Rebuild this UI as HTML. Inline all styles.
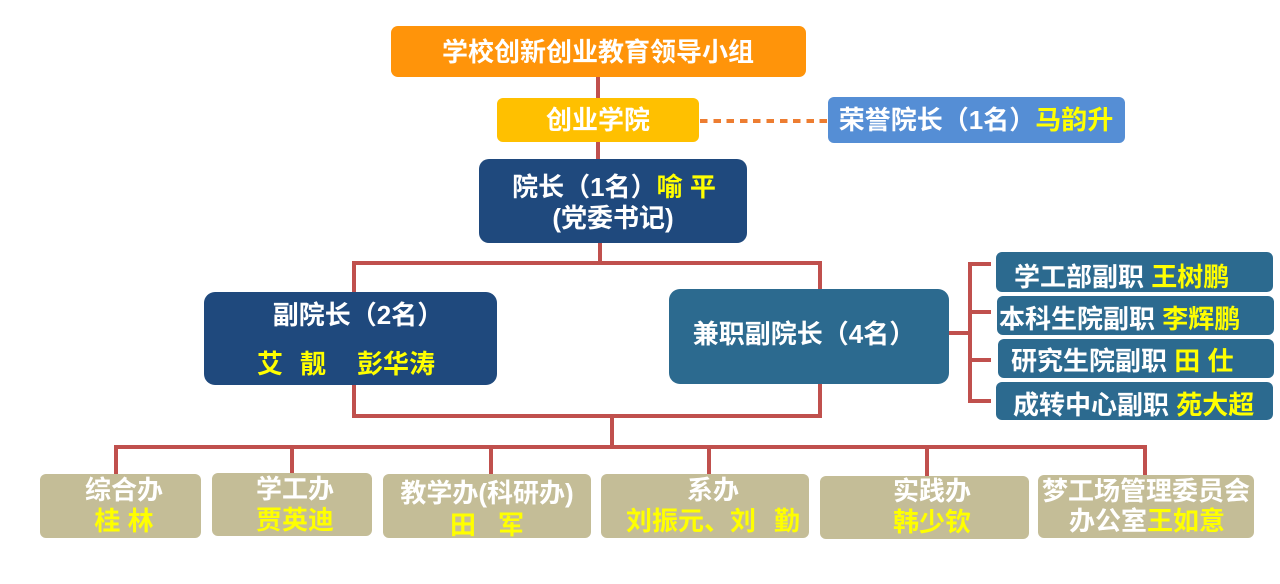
<!DOCTYPE html>
<html>
<head>
<meta charset="utf-8">
<style>
html,body{margin:0;padding:0;}
body{width:1280px;height:584px;background:#fff;position:relative;overflow:hidden;
font-family:"Liberation Sans","Noto Sans CJK SC","WenQuanYi Zen Hei",sans-serif;font-weight:bold;}
.b{position:absolute;box-sizing:border-box;}
.l{position:absolute;background:#C0504D;}
.t{position:absolute;width:400px;height:30px;line-height:30px;text-align:center;color:#fff;font-size:26px;white-space:nowrap;font-weight:bold;}
.tl{position:absolute;height:30px;line-height:30px;color:#fff;font-size:26px;white-space:nowrap;font-weight:bold;}
.y{color:#FFFF00;}
</style>
</head>
<body>
<!-- connector lines -->
<div class="l" style="left:596px;top:77px;width:4px;height:84px;"></div>
<div class="l" style="left:598px;top:241px;width:4px;height:22px;"></div>
<div class="l" style="left:352px;top:261px;width:470px;height:4px;"></div>
<div class="l" style="left:352px;top:261px;width:4px;height:32px;"></div>
<div class="l" style="left:818px;top:261px;width:4px;height:30px;"></div>
<div class="l" style="left:352px;top:382px;width:4px;height:36px;"></div>
<div class="l" style="left:818px;top:382px;width:4px;height:36px;"></div>
<div class="l" style="left:352px;top:414px;width:470px;height:4px;"></div>
<div class="l" style="left:610px;top:414px;width:4px;height:34px;"></div>
<div class="l" style="left:114px;top:445px;width:1033px;height:4px;"></div>
<div class="l" style="left:114px;top:445px;width:4px;height:30px;"></div>
<div class="l" style="left:290px;top:445px;width:4px;height:29px;"></div>
<div class="l" style="left:489px;top:445px;width:4px;height:30px;"></div>
<div class="l" style="left:707px;top:445px;width:4px;height:30px;"></div>
<div class="l" style="left:925px;top:445px;width:4px;height:32px;"></div>
<div class="l" style="left:1143px;top:445px;width:4px;height:31px;"></div>
<!-- right bracket -->
<div class="l" style="left:946px;top:331px;width:24px;height:4px;"></div>
<div class="l" style="left:968px;top:262px;width:4px;height:141px;"></div>
<div class="l" style="left:968px;top:262px;width:23px;height:4px;"></div>
<div class="l" style="left:968px;top:310px;width:23px;height:4px;"></div>
<div class="l" style="left:968px;top:358px;width:23px;height:4px;"></div>
<div class="l" style="left:968px;top:399px;width:23px;height:4px;"></div>
<!-- dashed -->
<div style="position:absolute;left:700px;top:119px;width:127px;height:4px;background:repeating-linear-gradient(90deg,#ED7D31 0,#ED7D31 7.5px,transparent 7.5px,transparent 13.3px);"></div>

<!-- boxes -->
<div class="b" style="left:391px;top:26px;width:415px;height:51px;background:#FF940A;border-radius:7px;"></div>
<div class="b" style="left:497px;top:98px;width:202px;height:44px;background:#FFC000;border-radius:6px;"></div>
<div class="b" style="left:828px;top:97px;width:297px;height:46px;background:#558ED5;border-radius:6px;"></div>
<div class="b" style="left:479px;top:159px;width:268px;height:84px;background:#1F497D;border-radius:10px;"></div>
<div class="b" style="left:204px;top:292px;width:293px;height:93px;background:#1F497D;border-radius:11px;"></div>
<div class="b" style="left:669px;top:289px;width:280px;height:95px;background:#2C6A8F;border-radius:11px;"></div>
<div class="b" style="left:996px;top:252px;width:277px;height:40px;background:#2C6A8F;border-radius:6px;"></div>
<div class="b" style="left:997px;top:296px;width:277px;height:39px;background:#2C6A8F;border-radius:6px;"></div>
<div class="b" style="left:998px;top:339px;width:276px;height:39px;background:#2C6A8F;border-radius:6px;"></div>
<div class="b" style="left:996px;top:382px;width:277px;height:38px;background:#2C6A8F;border-radius:6px;"></div>
<div class="b" style="left:40px;top:474px;width:161px;height:64px;background:#C4BD97;border-radius:6px;"></div>
<div class="b" style="left:212px;top:473px;width:160px;height:63px;background:#C4BD97;border-radius:6px;"></div>
<div class="b" style="left:383px;top:474px;width:208px;height:64px;background:#C4BD97;border-radius:6px;"></div>
<div class="b" style="left:601px;top:474px;width:208px;height:64px;background:#C4BD97;border-radius:6px;"></div>
<div class="b" style="left:820px;top:476px;width:209px;height:63px;background:#C4BD97;border-radius:6px;"></div>
<div class="b" style="left:1038px;top:475px;width:216px;height:63px;background:#C4BD97;border-radius:6px;"></div>

<!-- texts -->
<div class="t" style="left:398px;top:37px;">学校创新创业教育领导小组</div>
<div class="t" style="left:398px;top:105px;">创业学院</div>
<div class="t" style="left:776px;top:105px;">荣誉院长（1名）<span class="y">马韵升</span></div>
<div class="t" style="left:414px;top:172px;">院长（1名）<span class="y">喻 平</span></div>
<div class="t" style="left:413px;top:203px;">(党委书记)</div>
<div class="t" style="left:158px;top:300px;">副院长（2名）</div>
<div class="tl y" style="left:257px;top:349px;">艾<span style="margin-left:17px;">靓</span><span style="margin-left:31px;">彭华涛</span></div>
<div class="t" style="left:604px;top:319px;">兼职副院长（4名）</div>
<div class="tl" style="left:1014px;top:262px;">学工部副职 <span class="y">王树鹏</span></div>
<div class="tl" style="left:999px;top:304px;">本科生院副职 <span class="y">李辉鹏</span></div>
<div class="tl" style="left:1011px;top:346px;">研究生院副职 <span class="y">田 仕</span></div>
<div class="tl" style="left:1013px;top:390px;">成转中心副职 <span class="y">苑大超</span></div>

<div class="t" style="left:-76px;top:475px;">综合办</div>
<div class="t y" style="left:-76px;top:506px;">桂 林</div>
<div class="t" style="left:95px;top:474px;">学工办</div>
<div class="t y" style="left:95px;top:505px;">贾英迪</div>
<div class="t" style="left:287px;top:478px;">教学办(科研办)</div>
<div class="t y" style="left:287px;top:510px;">田<span style="margin-left:22px;">军</span></div>
<div class="t" style="left:513px;top:475px;">系办</div>
<div class="t y" style="left:513px;top:506px;">刘振元、刘<span style="margin-left:18px;">勤</span></div>
<div class="t" style="left:732px;top:476px;">实践办</div>
<div class="t y" style="left:732px;top:507px;">韩少钦</div>
<div class="t" style="left:946px;top:476px;">梦工场管理委员会</div>
<div class="t" style="left:947px;top:506px;">办公室<span class="y">王如意</span></div>
</body>
</html>
